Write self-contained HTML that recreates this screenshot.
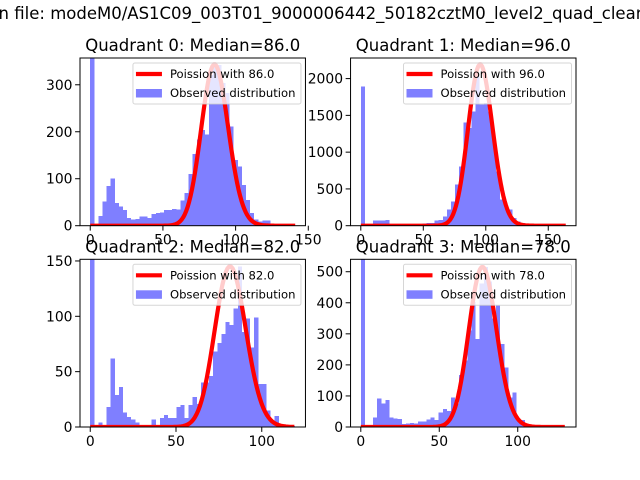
<!DOCTYPE html>
<html><head><meta charset="utf-8"><style>
body{margin:0;background:#fff;}
svg{display:block;font-family:"DejaVu Sans","Liberation Sans",sans-serif;}
</style></head><body>
<svg id="fig" width="640" height="480" viewBox="0 0 640 480">
<text x="-51" y="19" font-size="16.5" fill="#000">Median file: modeM0/AS1C09_003T01_9000006442_50182cztM0_level2_quad_clean.evt</text>
</svg>
<script>
// ---- data ----
const medians = [86, 96, 82, 78];
const maxValues = [141, 164, 119.5, 130.6];
const poissonPeaks = [343, 2190, 145, 515];
const yMaxes = [357, 2280, 151.5, 540];
const counts0 = [1000,0,21,51,84,100,48,41,33,16,13,14,20,20,16,25,27,28,33,33,36,34,54,70,110,153,183,204,194,321,346,342,304,282,211,140,126,87,55,27,13,9,11,11,1,1,0,0,0,1];
const counts1 = [1895,10,15,70,70,70,80,20,15,15,15,15,15,20,25,30,35,40,70,80,127,218,331,557,807,1405,1328,1555,2030,1645,1668,1555,1170,739,354,240,218,104,59,36,14,5,3,2,1,1,0,0,0,1];
const counts2 = [1000,0,4,2,18,62,29,36,13,9,7,4,1,2,2,7,1,8,11,8,8,18,20,8,20,27,21,40,40,46,68,76,84,95,92,107,145,86,98,72,99,39,39,15,5,10,2,2,1,1];
const counts3 = [1000,0,3,30,92,76,87,30,28,25,9,11,13,11,17,17,24,30,22,46,58,52,95,76,168,214,311,403,284,462,516,468,349,392,268,192,95,111,25,23,6,4,1,1,0,0,0,0,0,1];
const xTicks0 = [0,50,100,150];
const xTicks1 = [0,50,100,150];
const xTicks2 = [0,50,100];
const xTicks3 = [0,50,100];
const yTicks0 = [0,100,200,300];
const yTicks1 = [0,500,1000,1500,2000];
const yTicks2 = [0,50,100,150];
const yTicks3 = [0,100,200,300,400,500];
const titles = ["Quadrant 0: Median=86.0","Quadrant 1: Median=96.0","Quadrant 2: Median=82.0","Quadrant 3: Median=78.0"];
// ---- drawing ----
const NS="http://www.w3.org/2000/svg";
const svg=document.getElementById('fig');
function mk(tag,attrs,parent){const e=document.createElementNS(NS,tag);for(const k in attrs)e.setAttribute(k,attrs[k]);(parent||svg).appendChild(e);return e;}
function logPmf(k,m){let lf=0;for(let i=2;i<=k;i++)lf+=Math.log(i);return k*Math.log(m)-m-lf;}
const allCounts=[counts0,counts1,counts2,counts3];
const allX=[xTicks0,xTicks1,xTicks2,xTicks3];
const allY=[yTicks0,yTicks1,yTicks2,yTicks3];
const W=225.45,H=167.7;
const boxes=[[80,58],[350.55,58],[80,259.3],[350.55,259.3]];
for(let p=0;p<4;p++){
  const [x0,y0]=boxes[p];
  const g=mk('g',{});
  
  
  const maxV=maxValues[p], margin=maxV*0.05;
  const xmin=-margin,xmax=maxV+margin;
  const sx=v=>x0+(v-xmin)/(xmax-xmin)*W;
  const sy=v=>y0+H-(Math.min(v,yMaxes[p]*1.1)/yMaxes[p])*H;
  const cid='clip'+p;
  const cp=mk('clipPath',{id:cid},g);mk('rect',{x:x0,y:y0,width:W,height:H},cp);
  const plot=mk('g',{'clip-path':'url(#'+cid+')'},g);
  const bars=mk('g',{fill:'#0000ff','fill-opacity':0.5,'shape-rendering':'crispEdges'},plot);
  const c=allCounts[p], bw=maxV/c.length;
  c.forEach((v,i)=>{
    if(v<=0)return;
    const r=mk('rect',{x:sx(i*bw),y:sy(v),width:sx((i+1)*bw)-sx(i*bw),height:sy(0)-sy(v)},bars);
    
    
  });
  // poisson curve
  const m=medians[p], mode=Math.floor(m);
  const lm=logPmf(mode,m);
  let pts=[];
  for(let k=0;k<=Math.floor(maxV);k++){pts.push(sx(k).toFixed(2)+','+sy(poissonPeaks[p]*Math.exp(logPmf(k,m)-lm)).toFixed(2));}
  const pl=mk('polyline',{points:pts.join(' '),fill:'none',stroke:'#ff0000','stroke-width':4.2,'stroke-linejoin':'round'},plot);
  
  
  // axes frame
  const fr=mk('rect',{x:x0,y:y0,width:W,height:H,fill:'none',stroke:'#000','stroke-width':1},g);
  
  
  // ticks
  allX[p].forEach(t=>{
    const X=sx(t);
    mk('line',{x1:X,x2:X,y1:y0+H,y2:y0+H+4.9,stroke:'#000','stroke-width':1},g);
    const tx=mk('text',{x:X,y:y0+H+19,'font-size':13.9,'text-anchor':'middle'},g);
    tx.textContent=t;
    
    
  });
  allY[p].forEach(t=>{
    const Y=y0+H-t/yMaxes[p]*H;
    mk('line',{x1:x0-4.9,x2:x0,y1:Y,y2:Y,stroke:'#000','stroke-width':1},g);
    const tx=mk('text',{x:x0-7.5,y:Y+5,'font-size':13.9,'text-anchor':'end'},g);
    tx.textContent=t;
    
    
  });
  const tt=mk('text',{x:x0+W/2,y:y0-7,'font-size':16.5,'text-anchor':'middle'},g);
  tt.textContent=titles[p];
  
  
  // legend
  const lx=x0+W-4.5-168, ly=y0+5;
  const lg=mk('g',{},g);
  
  
  mk('rect',{x:lx,y:ly,width:168,height:41,rx:2,fill:'#fff','fill-opacity':0.8,stroke:'#ccc','stroke-opacity':0.8},lg);
  mk('line',{x1:lx+3,x2:lx+29,y1:ly+11,y2:ly+11,stroke:'#ff0000','stroke-width':4.2},lg);
  const t1=mk('text',{x:lx+37,y:ly+15,'font-size':11.6},lg);t1.textContent='Poission with '+medians[p].toFixed(1);
  
  
  mk('rect',{x:lx+3,y:ly+26,width:26,height:8.5,fill:'#0000ff','fill-opacity':0.5},lg);
  const t2=mk('text',{x:lx+37,y:ly+34,'font-size':11.6},lg);t2.textContent='Observed distribution';
  
  
}
</script>
</body></html>
